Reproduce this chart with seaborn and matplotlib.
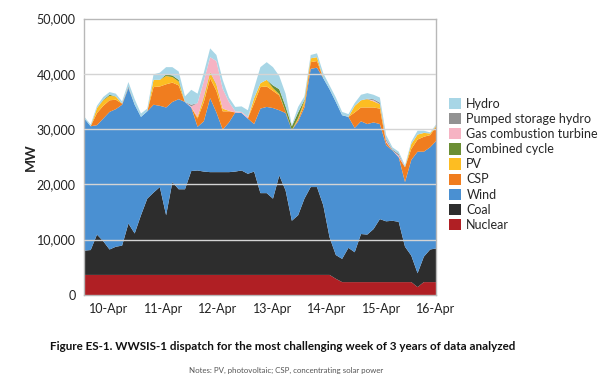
import numpy as np
import matplotlib
matplotlib.use("Agg")
import matplotlib.pyplot as plt
import seaborn as sns
from matplotlib.patches import Patch

# hours since 10-Apr 00:00, every 3 hours
hours = list(range(0, 169, 3))

nuclear = [3700] * 40 + [3000] + [2400] * 12 + [1500] + [2400] * 3
coal = [4400, 4500, 7300, 6100, 4600, 5100, 5300, 9300, 7500, 10800,
        13800, 14900, 15900, 10800, 16800, 15500, 15500, 18800, 18900, 18700,
        18600, 18600, 18600, 18600, 18700, 18900, 18300, 18700, 14800, 14800,
        13800, 18000, 15300, 9800, 10800, 13800, 15900, 15900, 12600, 6800,
        4300, 4200, 6200, 5400, 8700, 8600, 9600, 11400, 11000, 11100,
        10900, 6400, 4800, 2500, 4600, 5900, 6100]
wind = [23900, 22400, 19800, 22200, 24900, 24900, 25500, 24500, 23300, 17800,
        15800, 15900, 14700, 19500, 14500, 16300, 15800, 11500, 7900, 9100,
        13400, 10800, 7700, 9000, 10700, 10400, 10000, 8600, 15300, 15600,
        16400, 11800, 14000, 16400, 17000, 16500, 21400, 21600, 23000, 26800,
        27700, 26000, 23700, 22500, 20400, 20000, 19300, 17200, 13800, 12700,
        11700, 11700, 17300, 22000, 19000, 18500, 19500]
csp = [0, 0, 2200, 2300, 2100, 1700, 200, 0, 0, 0,
       0, 3200, 3500, 4200, 3500, 2500, 0, 0, 1500, 3500,
       3600, 3900, 3300, 2000, 0, 0, 0, 3800, 3900, 3700,
       3100, 2700, 300, 0, 300, 600, 1200, 1200, 0, 0,
       0, 0, 0, 2800, 2500, 3000, 2700, 2800, 500, 0,
       0, 2700, 2000, 2200, 2700, 2200, 2600]
pv = [0, 0, 900, 1000, 800, 600, 0, 0, 0, 0,
      0, 1300, 1200, 1500, 1000, 700, 0, 0, 300, 800,
      1000, 1100, 500, 100, 0, 0, 0, 900, 700, 1200,
      500, 200, 0, 0, 300, 600, 700, 700, 0, 0,
      0, 0, 0, 1200, 1300, 1500, 1100, 800, 0, 0,
      0, 0, 900, 900, 700, 300, 200]
combined = [0, 0, 0, 100, 200, 0, 0, 0, 0, 0,
            0, 0, 0, 300, 300, 300, 0, 0, 0, 200,
            100, 100, 0, 0, 0, 0, 0, 0, 0, 0,
            500, 900, 900, 700, 1000, 200, 0, 0, 0, 0,
            0, 0, 0, 0, 0, 0, 0, 0, 0, 0,
            0, 0, 0, 0, 0, 0, 0]
gas_ct = [0, 0, 0, 0, 0, 0, 0, 0, 0, 0,
          0, 0, 0, 0, 0, 0, 0, 200, 2500, 2800,
          2700, 4200, 3600, 1600, 200, 200, 300, 0, 0, 0,
          0, 0, 0, 0, 0, 0, 0, 0, 0, 0,
          0, 0, 0, 0, 0, 0, 200, 0, 300, 0,
          300, 0, 0, 0, 0, 0, 0]
pumped = [0, 0, 0, 0, 0, 0, 0, 300, 0, 0,
          0, 0, 0, 0, 0, 0, 0, 300, 0, 0,
          0, 0, 0, 0, 0, 0, 0, 0, 0, 0,
          0, 0, 0, 0, 0, 0, 0, 0, 0, 0,
          0, 0, 0, 0, 0, 100, 200, 300, 300, 200,
          300, 0, 0, 0, 0, 0, 0]
hydro = [300, 300, 400, 500, 500, 500, 400, 800, 1000, 600,
         500, 1000, 1300, 1300, 1500, 1500, 1000, 2700, 1700, 1500,
         1600, 1100, 1600, 800, 800, 1000, 1200, 1800, 2900, 3200,
         3300, 2400, 2300, 200, 1000, 600, 600, 700, 900, 700,
         800, 600, 500, 500, 1000, 1000, 800, 900, 700, 400,
         400, 300, 400, 700, 400, 200, 200]

names = ["Nuclear", "Coal", "Wind", "CSP", "PV", "Combined cycle",
         "Gas combustion turbine", "Pumped storage hydro", "Hydro"]
colors = ["#b01f24", "#2d2d2d", "#4a90d2", "#f07d1f", "#fdbd22",
          "#6b8e34", "#f6b3c3", "#929292", "#a8d6e6"]

day_labels = ["10-Apr", "11-Apr", "12-Apr", "13-Apr", "14-Apr", "15-Apr", "16-Apr"]
label_hours = [12, 38, 64, 90, 116, 142, 168]

sns.set_theme(style="white")
plt.rcParams["font.family"] = ["Lato", "DejaVu Sans"]

fig = plt.figure(figsize=(6.08, 3.79), dpi=100)
ax = fig.add_axes([0.138, 0.222, 0.579, 0.729])

ax.stackplot(hours, nuclear, coal, wind, csp, pv, combined, gas_ct, pumped, hydro,
             colors=colors, linewidth=0)

ax.set_xlim(0, 168)
ax.set_ylim(0, 50000)
ax.set_yticks(range(0, 50001, 10000))
ax.set_yticklabels([f"{v:,}" for v in range(0, 50001, 10000)], fontsize=9, color="#222222")
for v in range(10000, 50000, 10000):
    ax.axhline(v, color="#d4d4d4", lw=1, zorder=3)

ax.set_xticks(label_hours)
ax.set_xticklabels(day_labels, fontsize=9, color="#222222")
ax.set_xticks(range(0, 169, 24), minor=True)
ax.tick_params(axis="x", which="major", length=0, pad=6)
ax.tick_params(axis="x", which="minor", length=4, width=1, color="#9a9a9a", direction="out")
ax.tick_params(axis="y", length=4, width=1, color="#9a9a9a", direction="out", pad=2)

for s in ax.spines.values():
    s.set_color("#b8b8b8")
    s.set_linewidth(1)

ax.set_ylabel("MW", fontsize=10, fontweight="bold", labelpad=0)

handles = [Patch(facecolor=c, edgecolor="none", label=n) for n, c in zip(names, colors)][::-1]
fig.legend(handles=handles, loc="upper left", bbox_to_anchor=(0.73, 0.755),
           frameon=False, fontsize=9, handlelength=1.0, handleheight=1.0,
           handletextpad=0.4, labelspacing=0.25, borderaxespad=0)

fig.text(0.082, 0.085, "Figure ES-1. WWSIS-1 dispatch for the most challenging week of 3 years of data analyzed",
         fontsize=8.4, fontweight="bold", color="#111111", va="center")
fig.text(0.47, 0.022, "Notes: PV, photovoltaic; CSP, concentrating solar power",
         fontsize=5.7, color="#555555", ha="center", va="center")

fig.savefig("out.png", dpi=100)
